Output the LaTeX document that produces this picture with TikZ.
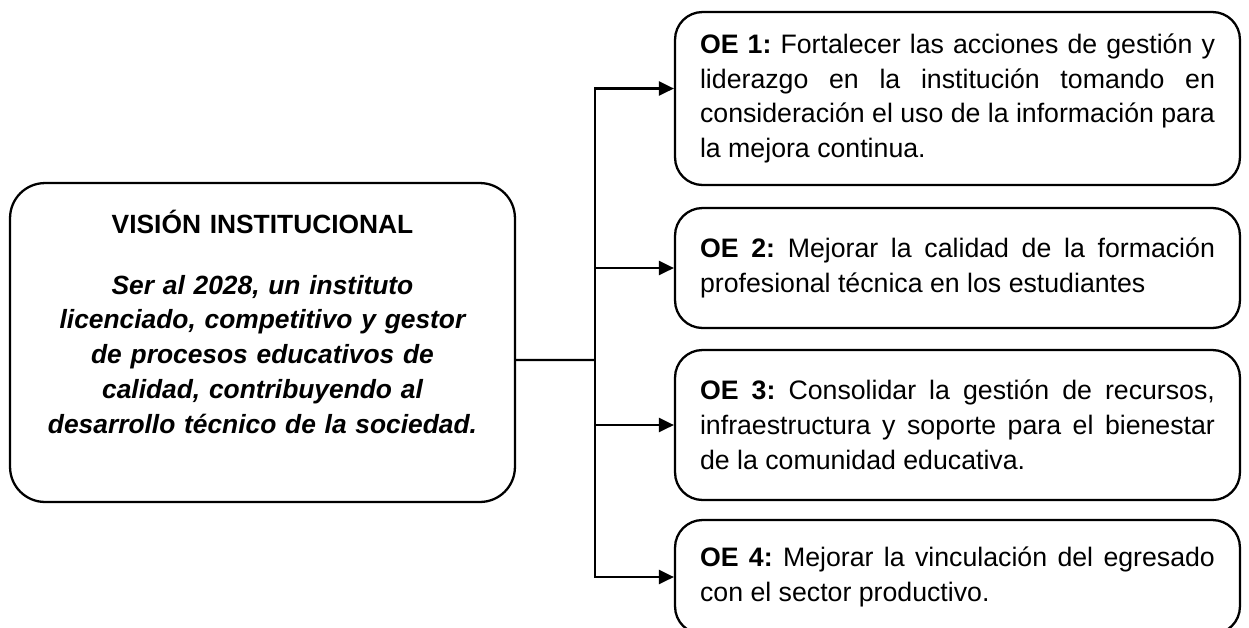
\documentclass[tikz,border=0pt]{standalone}
\usepackage{fontspec}
\setmainfont{Liberation Sans}
\frenchspacing
\usetikzlibrary{arrows.meta, positioning, calc}
\tikzset{
    visionbox/.style={rectangle, draw, line width=1.3pt, rounded corners=0.7cm, minimum width=10.1cm, minimum height=6.38cm, text width=9.6cm, align=center, font=\fontsize{15}{19.8}\selectfont},
    oebox/.style={rectangle, draw, line width=1.3pt, rounded corners=0.55cm, minimum width=11.3cm, text width=10.3cm, align=justify, inner sep=0pt, font=\fontsize{15.2}{19.8}\selectfont},
    line/.style={line width=1.3pt},
    arrow/.style={-{Triangle[length=0.3cm, width=0.28cm]}, line width=1.3pt},
}

\begin{document}
\begin{tikzpicture}[x=0.02cm, y=-0.02cm]
    \useasboundingbox (0,0) rectangle (1249,627);

    % === VISION ===
    \node[visionbox] (vision) at (262.5,342.5) {\textbf{VISIÓN INSTITUCIONAL}\\[0.52cm]
        \textbf{\textit{Ser al 2028, un instituto\\licenciado, competitivo y gestor\\de procesos educativos de\\calidad, contribuyendo al\\desarrollo técnico de la sociedad.}}\\[0.14cm]\mbox{}};

    % === OBJETIVOS ESTRATEGICOS ===
    \node[oebox, minimum height=3.46cm] (oe1) at (957.5,98.5) {\textbf{OE 1:} Fortalecer las acciones de gestión y\linebreak liderazgo en la institución tomando en\linebreak consideración el uso de la información para\linebreak la mejora continua.};
    \node[oebox, minimum height=2.4cm] (oe2) at (957.5,268) {\textbf{OE 2:} Mejorar la calidad de la formación\linebreak profesional técnica en los estudiantes};
    \node[oebox, minimum height=3.0cm] (oe3) at (957.5,425) {\textbf{OE 3:} Consolidar la gestión de recursos,\linebreak infraestructura y soporte para el bienestar\linebreak de la comunidad educativa.};
    \node[oebox, minimum height=2.28cm] (oe4) at (957.5,577) {\textbf{OE 4:} Mejorar la vinculación del egresado\linebreak con el sector productivo.};

    % === CONNECTORS ===
    \coordinate (split) at (595,360);
    \draw[line] ([yshift=-0.35cm]vision.east) -- (split);
    \draw[arrow] (split) |- ([yshift=0.2cm]oe1.west);
    \draw[arrow] (split) |- (oe2.west);
    \draw[arrow] (split) |- (oe3.west);
    \draw[arrow] (split) |- (oe4.west);

\end{tikzpicture}
\end{document}
